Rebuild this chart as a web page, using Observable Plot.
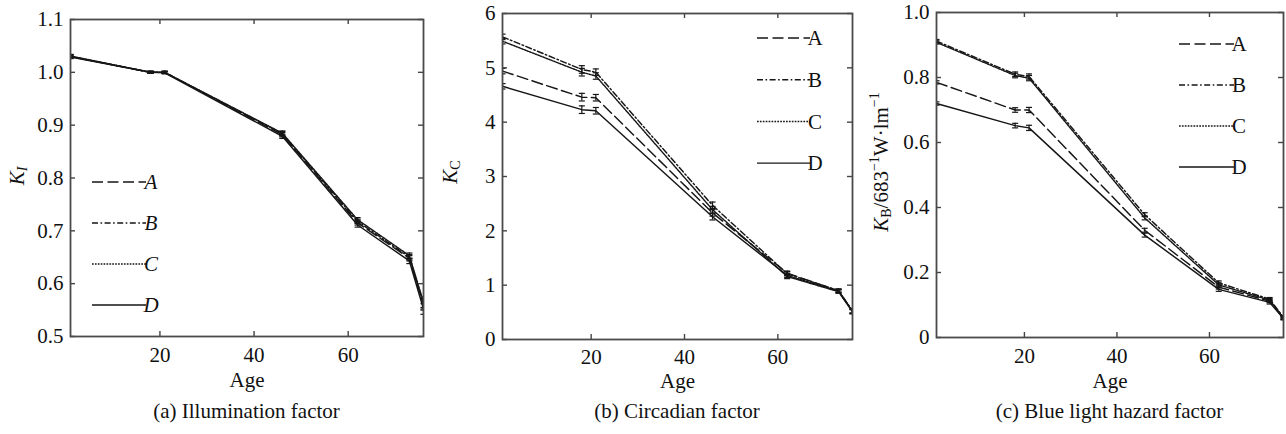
<!DOCTYPE html>
<html><head><meta charset="utf-8">
<script src="https://cdn.jsdelivr.net/npm/d3@7"></script>
<script src="https://cdn.jsdelivr.net/npm/@observablehq/plot@0.6"></script>
<style>
body{margin:0;background:#fff;font-family:"Liberation Serif","DejaVu Serif",serif;}
#wrap{position:relative;width:1286px;height:434px;overflow:hidden;}
#wrap svg, #wrap svg text{font-family:"Liberation Serif",serif !important;}
.panel{position:absolute;top:0;}
.cap{position:absolute;top:398px;font-size:21px;line-height:26px;text-align:center;white-space:nowrap;color:#111;}
</style></head><body><div id="wrap"></div>
<script>
// ---- data ----
const ages = [1, 18, 21, 46, 62, 73, 76];
const seriesNames = ["A", "B", "C", "D"];
const xTicks = [20, 40, 60];

// (a) Illumination factor K_I
const illumA = [1.030, 1.000, 1.000, 0.882, 0.715, 0.648, 0.560];
const illumB = [1.030, 1.000, 1.000, 0.884, 0.718, 0.650, 0.562];
const illumC = [1.031, 1.000, 1.000, 0.885, 0.721, 0.653, 0.565];
const illumD = [1.029, 1.000, 0.999, 0.879, 0.711, 0.643, 0.552];
const illumErr = [0.003, 0.002, 0.002, 0.004, 0.004, 0.005, 0.010];
const illumTicks = [0.5, 0.6, 0.7, 0.8, 0.9, 1.0, 1.1];

// (b) Circadian factor K_C
const circA = [4.94, 4.46, 4.45, 2.33, 1.22, 0.90, 0.52];
const circB = [5.57, 4.97, 4.92, 2.47, 1.21, 0.90, 0.53];
const circC = [5.49, 4.92, 4.85, 2.39, 1.16, 0.88, 0.51];
const circD = [4.66, 4.23, 4.21, 2.26, 1.18, 0.89, 0.52];
const circErr = [0.05, 0.07, 0.06, 0.06, 0.04, 0.03, 0.04];
const circTicks = [0, 1, 2, 3, 4, 5, 6];

// (c) Blue light hazard factor K_B/683^-1 W·lm^-1
const blueA = [0.785, 0.700, 0.700, 0.330, 0.155, 0.112, 0.060];
const blueB = [0.912, 0.810, 0.803, 0.378, 0.168, 0.118, 0.062];
const blueC = [0.908, 0.806, 0.798, 0.368, 0.162, 0.115, 0.060];
const blueD = [0.720, 0.652, 0.645, 0.315, 0.148, 0.108, 0.058];
const blueErr = [0.005, 0.007, 0.008, 0.006, 0.006, 0.005, 0.004];
const blueTicks = [0, 0.2, 0.4, 0.6, 0.8, 1.0];

const captions = ["(a) Illumination factor", "(b) Circadian factor", "(c) Blue light hazard factor"];

// ---- styles ----
const dashes = {A: "11,4.5", B: "6,2.5,1.6,2.5", C: "1.7,1.2", D: null};
const ink = "#161616";
const FONT = "Liberation Serif";
const FS = 21;

const panels = [
  {left: 0, width: 430, mL: 70, mR: 7, mT: 19, mB: 59, ydom: [0.5, 1.1], ticks: illumTicks,
   fmt: d => d.toFixed(1), vals: [illumA, illumB, illumC, illumD], err: illumErr,
   leg: {x1: 22, x2: 76, y0: 163, step: 41, italic: true}, tp: 11,
   ylab: {x: 17, y: 176, parts: [["K", "i", 0], ["I", "i", 1]]}, ageDy: 50},
  {left: 430, width: 430, mL: 72, mR: 8, mT: 13, mB: 56, ydom: [0, 6], ticks: circTicks,
   fmt: d => String(d), vals: [circA, circB, circC, circD], err: circErr,
   leg: {x1: 255, x2: 308, y0: 25, step: 41.7, italic: false}, tp: 10,
   ylab: {x: 20, y: 172, parts: [["K", "i", 0], ["C", "n", 1]]}, ageDy: 48},
  {left: 860, width: 426, mL: 76, mR: 3, mT: 12, mB: 58, ydom: [0, 1], ticks: blueTicks,
   fmt: d => d === 0 ? "0" : d.toFixed(1), vals: [blueA, blueB, blueC, blueD], err: blueErr,
   leg: {x1: 243, x2: 298, y0: 32, step: 41, italic: false}, tp: 11,
   ylab: {x: 21, y: 162, parts: [["K", "i", 0], ["B", "n", 1], ["/683", "n", 0], ["\u22121", "n", -1], ["W\u00b7lm", "n", 0], ["\u22121", "n", -1]]}, ageDy: 50}
];

const wrap = document.getElementById("wrap");
const H = 395;

panels.forEach((p, pi) => {
  const rows = [];
  seriesNames.forEach((s, si) => ages.forEach((a, i) => rows.push({s, age: a, v: p.vals[si][i], e: p.err[i]})));
  const fw = p.width - p.mL - p.mR;
  const fh = H - p.mT - p.mB;
  const cap = 0.65;
  const marks = [];
  seriesNames.forEach(s => {
    const d = rows.filter(r => r.s === s);
    marks.push(Plot.ruleX(d, {x: "age", y1: r => r.v - r.e, y2: r => r.v + r.e, stroke: ink, strokeWidth: 1.2, clip: true}));
    marks.push(Plot.link(d, {x1: r => r.age - cap, x2: r => r.age + cap, y1: r => r.v + r.e, y2: r => r.v + r.e, stroke: ink, strokeWidth: 1.2, clip: true}));
    marks.push(Plot.link(d, {x1: r => r.age - cap, x2: r => r.age + cap, y1: r => r.v - r.e, y2: r => r.v - r.e, stroke: ink, strokeWidth: 1.2, clip: true}));
    marks.push(Plot.line(d, {x: "age", y: "v", stroke: ink, strokeWidth: 1.45, strokeDasharray: dashes[s], clip: true}));
  });
  // inward ticks on all four sides
  marks.push(Plot.tickX(xTicks, {x: d => d, insetTop: fh - 5, stroke: "#444", strokeWidth: 1.4}));
  marks.push(Plot.tickX(xTicks, {x: d => d, insetBottom: fh - 5, stroke: "#444", strokeWidth: 1.4}));
  marks.push(Plot.tickY(p.ticks, {y: d => d, insetRight: fw - 5, stroke: "#444", strokeWidth: 1.4}));
  marks.push(Plot.tickY(p.ticks, {y: d => d, insetLeft: fw - 5, stroke: "#444", strokeWidth: 1.4}));
  marks.push(Plot.frame({stroke: "#4a4a4a", strokeWidth: 1.8}));
  marks.push(Plot.axisX({ticks: xTicks, tickSize: 0, tickPadding: p.tp, label: null, fill: "#111", fontSize: FS, fontFamily: FONT}));
  marks.push(Plot.axisY({ticks: p.ticks, tickSize: 0, tickPadding: 7, tickFormat: p.fmt, label: null, fill: "#111", fontSize: FS, fontFamily: FONT}));
  marks.push(Plot.text(["Age"], {text: d => d, frameAnchor: "bottom", dy: p.ageDy, fill: "#111", fontSize: FS, fontFamily: FONT}));

  const plot = Plot.plot({
    width: p.width, height: H,
    marginLeft: p.mL, marginRight: p.mR, marginTop: p.mT, marginBottom: p.mB,
    x: {domain: [1, 76]},
    y: {domain: p.ydom},
    style: {fontFamily: FONT, fontSize: FS + "px", color: "#111", background: "white", overflow: "visible"},
    marks
  });

  const svg = d3.select(plot);
  // legend
  const g = svg.append("g");
  seriesNames.forEach((s, i) => {
    const y = p.mT + p.leg.y0 + i * p.leg.step;
    g.append("line").attr("x1", p.mL + p.leg.x1).attr("x2", p.mL + p.leg.x2)
      .attr("y1", y).attr("y2", y).attr("stroke", ink).attr("stroke-width", 1.45)
      .attr("stroke-dasharray", dashes[s]);
    g.append("text").attr("x", p.mL + p.leg.x2 + 5).attr("y", y).attr("dy", "0.35em")
      .attr("font-family", FONT).attr("font-size", FS).attr("fill", "#111")
      .attr("font-style", p.leg.italic ? "italic" : "normal").text(s);
  });
  // y label with sub/superscripts
  const t = svg.append("text")
    .attr("transform", `translate(${p.ylab.x},${p.ylab.y}) rotate(-90)`)
    .attr("text-anchor", "middle").attr("dominant-baseline", "central")
    .attr("font-family", FONT).attr("font-size", FS).attr("fill", "#111");
  let shift = 0;
  p.ylab.parts.forEach(([str, st, lvl]) => {
    const ts = t.append("tspan").text(str).attr("font-style", st === "i" ? "italic" : "normal");
    const target = lvl === 1 ? 5 : lvl === -1 ? -7 : 0;
    ts.attr("dy", target - shift);
    if (lvl !== 0) ts.attr("font-size", 14);
    shift = target;
  });

  const div = document.createElement("div");
  div.className = "panel";
  div.style.left = p.left + "px";
  div.appendChild(plot);
  wrap.appendChild(div);

  const c = document.createElement("div");
  c.className = "cap";
  c.textContent = captions[pi];
  const cx = p.left + p.mL + fw / 2;
  c.style.left = (cx - 200) + "px";
  c.style.width = "400px";
  wrap.appendChild(c);
});
</script>
</body></html>
